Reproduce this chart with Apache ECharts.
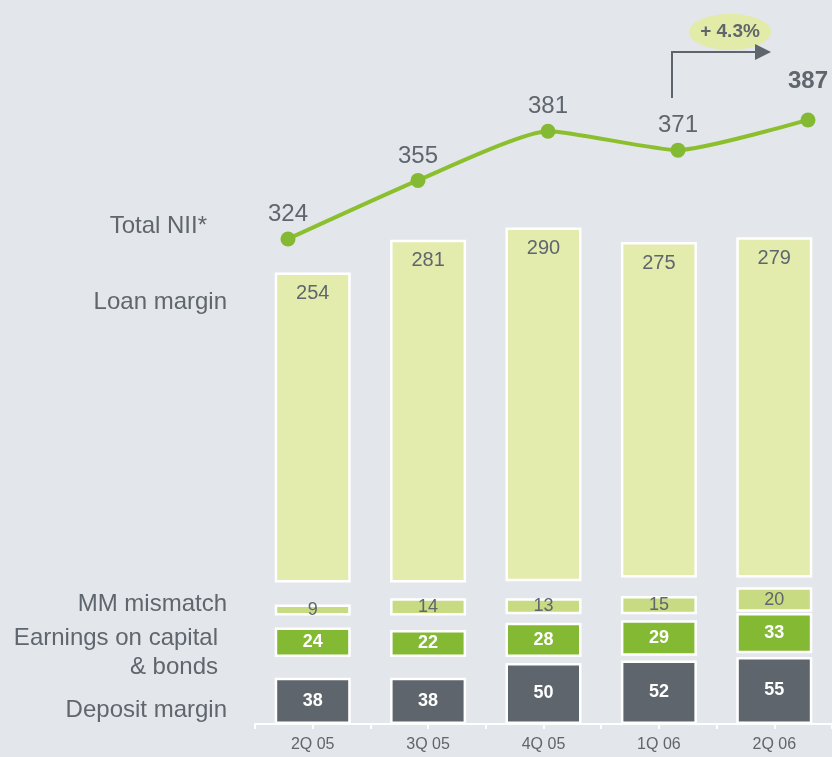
<!DOCTYPE html>
<html>
<head>
<meta charset="utf-8">
<script src="https://cdn.jsdelivr.net/npm/echarts@6/dist/echarts.min.js"></script>
<style>
  html, body { margin: 0; padding: 0; background: #e3e6ea; }
  #chart { width: 832px; height: 757px; }
</style>
</head>
<body>
<div id="chart"></div>
<script>
// data
var quarters = ['2Q 05', '3Q 05', '4Q 05', '1Q 06', '2Q 06'];
var depositMargin = [38, 38, 50, 52, 55];
var earningsCapital = [24, 22, 28, 29, 33];
var mmMismatch = [9, 14, 13, 15, 20];
var loanMargin = [254, 281, 290, 275, 279];
var totalNII = [324, 355, 381, 371, 387];

// spacing between the stacked blocks (layout only, transparent)
var gapDepEarn = [17, 17, 5, 4, 3];
var gapEarnMM = [10, 12, 7, 5, 1];
var gapMMLoan = [18, 13, 14, 15, 8];

var textGrey = '#5f666d';
var font = '"Liberation Sans", Arial, sans-serif';

var chart = echarts.init(document.getElementById('chart'));

function block(name, data, color, label) {
  return {
    name: name,
    type: 'bar',
    stack: 'nii',
    barWidth: 76,
    data: data,
    itemStyle: { color: color, borderColor: '#ffffff', borderWidth: 2.5 },
    label: label
  };
}

function gap(data) {
  return {
    type: 'bar',
    stack: 'nii',
    barWidth: 76,
    silent: true,
    data: data,
    itemStyle: { color: 'transparent' },
    label: { show: false }
  };
}

var whiteLabel = { show: true, position: 'inside', color: '#fff', fontWeight: 'bold', fontSize: 18, fontFamily: font };

var lineData = totalNII.map(function (v, i) {
  if (i === totalNII.length - 1) {
    return { value: v, label: { fontWeight: 'bold', distance: 19 } };
  }
  return v;
});

var option = {
  backgroundColor: '#e3e6ea',
  animation: false,
  grid: [
    { left: 255, top: 0, width: 582, height: 724 },
    { left: 288, top: 0, width: 520, height: 724 }
  ],
  xAxis: [
    {
      type: 'category', gridIndex: 0, data: quarters, position: 'bottom',
      axisLine: { lineStyle: { color: '#ffffff', width: 2 } },
      axisTick: { show: true, length: 5, lineStyle: { color: '#ffffff', width: 2 } },
      axisLabel: { color: textGrey, fontSize: 16, fontFamily: font, margin: 13 }
    },
    {
      type: 'category', gridIndex: 0, data: quarters, position: 'bottom',
      axisLine: { show: false },
      axisTick: { show: true, alignWithLabel: true, length: 5, lineStyle: { color: '#ffffff', width: 2 } },
      axisLabel: { show: false }
    },
    {
      type: 'category', gridIndex: 1, data: quarters, boundaryGap: false, show: false
    }
  ],
  yAxis: [
    { type: 'value', gridIndex: 0, min: 0, max: 724 / 1.22, show: false },
    { type: 'value', gridIndex: 1, min: 67.2, max: 450.5, show: false }
  ],
  series: [
    block('Deposit margin', depositMargin, '#5e656c', whiteLabel),
    gap(gapDepEarn),
    block('Earnings on capital & bonds', earningsCapital, '#84b933', whiteLabel),
    gap(gapEarnMM),
    block('MM mismatch', mmMismatch, '#c8da82',
      { show: true, position: 'inside', color: textGrey, fontSize: 18, fontFamily: font }),
    gap(gapMMLoan),
    block('Loan margin', loanMargin, '#e3ebad',
      { show: true, position: 'insideTop', distance: 11, color: textGrey, fontSize: 20, fontFamily: font }),
    {
      name: 'Total NII*',
      type: 'line',
      xAxisIndex: 2,
      yAxisIndex: 1,
      smooth: 0.18,
      data: lineData,
      z: 5,
      symbol: 'circle',
      symbolSize: 15,
      lineStyle: { color: '#8cbf2e', width: 4 },
      itemStyle: { color: '#84b933' },
      label: { show: true, position: 'top', distance: 5, color: textGrey, fontSize: 24, fontFamily: font }
    }
  ],
  graphic: [
    { type: 'text', style: { text: 'Total NII*', x: 207, y: 226, align: 'right', verticalAlign: 'middle', fill: textGrey, font: '24px ' + font } },
    { type: 'text', style: { text: 'Loan margin', x: 227, y: 302, align: 'right', verticalAlign: 'middle', fill: textGrey, font: '24px ' + font } },
    { type: 'text', style: { text: 'MM mismatch', x: 227, y: 604, align: 'right', verticalAlign: 'middle', fill: textGrey, font: '24px ' + font } },
    { type: 'text', style: { text: 'Earnings on capital', x: 218, y: 638, align: 'right', verticalAlign: 'middle', fill: textGrey, font: '24px ' + font } },
    { type: 'text', style: { text: '& bonds', x: 218, y: 667, align: 'right', verticalAlign: 'middle', fill: textGrey, font: '24px ' + font } },
    { type: 'text', style: { text: 'Deposit margin', x: 227, y: 710, align: 'right', verticalAlign: 'middle', fill: textGrey, font: '24px ' + font } },
    { type: 'ellipse', shape: { cx: 730, cy: 32, rx: 41, ry: 18 }, style: { fill: '#e3eba8' } },
    { type: 'text', style: { text: '+ 4.3%', x: 730, y: 32, align: 'center', verticalAlign: 'middle', fill: textGrey, font: 'bold 19px ' + font } },
    { type: 'polyline', shape: { points: [[672, 98], [672, 52], [756, 52]] }, style: { stroke: '#5e656c', lineWidth: 2, fill: null } },
    { type: 'polygon', shape: { points: [[755, 44], [771, 52], [755, 60]] }, style: { fill: '#5e656c' } }
  ]
};

chart.setOption(option);
</script>
</body>
</html>
